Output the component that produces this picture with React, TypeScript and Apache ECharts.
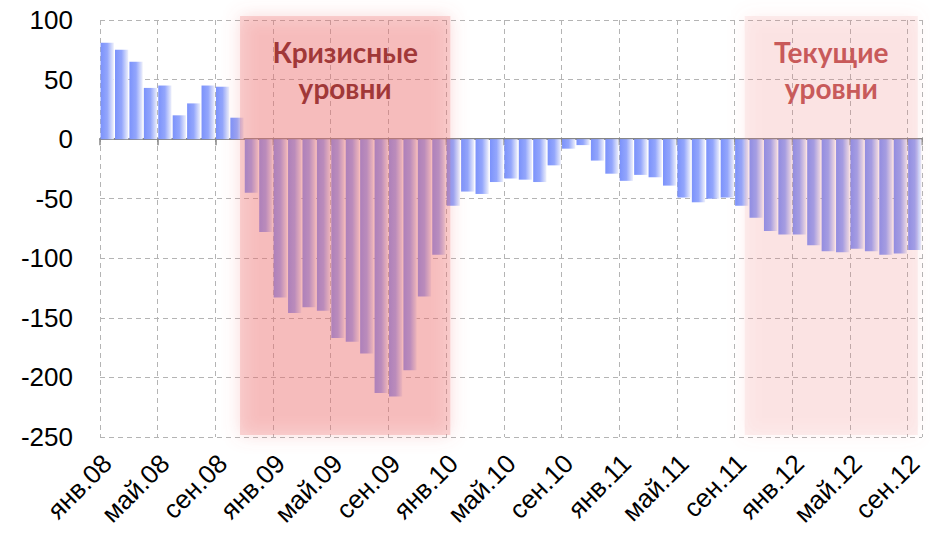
import React, { useEffect, useRef } from "react";
import * as echarts from "echarts";

const categories = [
  "янв.08","фев.08","мар.08","апр.08","май.08","июн.08","июл.08","авг.08","сен.08","окт.08","ноя.08","дек.08",
  "янв.09","фев.09","мар.09","апр.09","май.09","июн.09","июл.09","авг.09","сен.09","окт.09","ноя.09","дек.09",
  "янв.10","фев.10","мар.10","апр.10","май.10","июн.10","июл.10","авг.10","сен.10","окт.10","ноя.10","дек.10",
  "янв.11","фев.11","мар.11","апр.11","май.11","июн.11","июл.11","авг.11","сен.11","окт.11","ноя.11","дек.11",
  "янв.12","фев.12","мар.12","апр.12","май.12","июн.12","июл.12","авг.12","сен.12",
];

const values = [
  81, 75, 65, 43, 45, 20, 30, 45, 44, 18,
  -45, -78, -133, -146, -141, -144, -167, -170, -180, -213, -216, -194, -132, -97,
  -56, -44, -46, -36, -33, -34, -36, -22, -8, -5, -18, -29, -35, -30, -32, -39, -49, -53, -50, -49,
  -56, -66, -77, -80, -80, -89, -94, -95, -92, -94, -97, -96, -93,
];

const yTicks = { min: -250, max: 100, step: 50 };

const crisisRange = ["окт.08", "янв.10"];
const crisisLabel = "Кризисные\nуровни";
const currentRange = ["сен.11", "сен.12"];
const currentLabel = "Текущие\nуровни";

export default function App() {
  const ref = useRef<HTMLDivElement>(null);

  useEffect(() => {
    document.body.style.margin = "0";
    if (!ref.current) return;
    const chart = echarts.init(ref.current, null, { renderer: "svg" });

    const barGradient = new echarts.graphic.LinearGradient(0, 0, 1, 0, [
      { offset: 0, color: "#7b92fb" },
      { offset: 0.5, color: "#93a6fc" },
      { offset: 1, color: "#eef0fb" },
    ]);

    const font = "'Liberation Sans', Arial, sans-serif";

    chart.setOption({
      animation: false,
      grid: { left: 100, right: 8, top: 20, bottom: 102 },
      xAxis: [
        {
          type: "category",
          data: categories,
          position: "bottom",
          axisLine: { show: false, onZero: false },
          axisTick: { show: false },
          axisLabel: {
            interval: 3,
            rotate: 45,
            fontSize: 26,
            color: "#000",
            fontFamily: font,
            margin: 22,
          },
          splitLine: {
            show: true,
            interval: 3,
            lineStyle: { color: "#b4b4b4", type: [5, 4], width: 1 },
          },
        },
        {
          type: "category",
          data: categories,
          position: "bottom",
          axisLine: { show: true, onZero: true, lineStyle: { color: "#868686", width: 2 } },
          axisTick: { show: true, interval: 3, length: 6, lineStyle: { color: "#868686", width: 1.5 } },
          axisLabel: { show: false },
          splitLine: { show: false },
        },
      ],
      yAxis: {
        type: "value",
        min: yTicks.min,
        max: yTicks.max,
        interval: yTicks.step,
        axisLine: { show: false },
        axisTick: { show: false },
        axisLabel: { fontSize: 26, color: "#000", fontFamily: font, margin: 27 },
        splitLine: { lineStyle: { color: "#b4b4b4", type: [5, 4], width: 1 } },
      },
      series: [
        {
          type: "bar",
          data: values,
          xAxisIndex: 0,
          barCategoryGap: "8%",
          itemStyle: { color: barGradient },
        },
      ],
    });

    const px = (name: string) => chart.convertToPixel({ xAxisIndex: 0 }, name) as number;
    const py = (v: number) => chart.convertToPixel({ yAxisIndex: 0 }, v) as number;
    const top = py(yTicks.max) - 4;
    const bottom = py(yTicks.min) - 2;

    const zone = (range: string[], label: string, fill: string, shadow: string, textColor: string, extraRight: number) => {
      const x0 = px(range[0]) + 3;
      const x1 = px(range[1]) + extraRight;
      return [
        {
          type: "rect",
          z: 50,
          shape: { x: x0, y: top, width: x1 - x0, height: bottom - top },
          style: { fill, shadowBlur: 18, shadowColor: shadow, shadowOffsetX: 0, shadowOffsetY: 0 },
          silent: true,
        },
        {
          type: "text",
          z: 60,
          x: (x0 + x1) / 2,
          y: 70,
          style: {
            text: label,
            fontSize: 28,
            fontWeight: "bold",
            fontFamily: "Lato, 'Noto Sans', sans-serif",
            fill: textColor,
            align: "center",
            verticalAlign: "middle",
            lineHeight: 36,
          },
          silent: true,
        },
      ];
    };

    chart.setOption({
      graphic: [
        ...zone(crisisRange, crisisLabel, "rgba(236,110,110,0.26)", "rgba(236,110,110,1)", "#a13838", -3),
        ...zone(currentRange, currentLabel, "rgba(240,120,120,0.11)", "rgba(240,120,120,1)", "#c85a5a", 3),
      ],
    });

    return () => chart.dispose();
  }, []);

  return <div ref={ref} style={{ width: 930, height: 539 }} />;
}
